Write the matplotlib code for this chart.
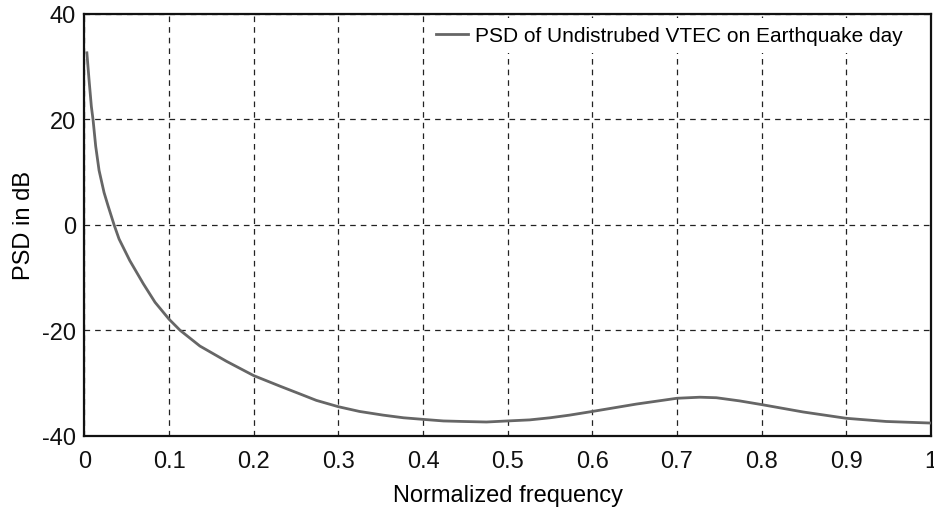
import matplotlib
matplotlib.use("Agg")
import matplotlib.pyplot as plt

plt.rcParams['font.family'] = ['Liberation Sans', 'DejaVu Sans']
plt.rcParams['axes.unicode_minus'] = False

freq = [0.003, 0.0056, 0.0083, 0.0103, 0.0134, 0.0174, 0.0233, 0.028, 0.0351,
        0.041, 0.0537, 0.0697, 0.0835, 0.1, 0.113, 0.1365, 0.168, 0.2, 0.231,
        0.255, 0.274, 0.3, 0.325, 0.353, 0.377, 0.4, 0.424, 0.447, 0.475,
        0.5, 0.526, 0.55, 0.573, 0.6, 0.652, 0.7, 0.727, 0.7465, 0.774,
        0.8, 0.849, 0.9, 0.947, 1.0]
psd_db = [32.6, 27.4, 22.4, 19.9, 14.9, 10.3, 6.1, 3.6, 0.0,
          -2.7, -6.8, -11.2, -14.7, -17.9, -20.0, -23.0, -25.9, -28.6, -30.6,
          -32.1, -33.3, -34.5, -35.4, -36.1, -36.6, -36.9, -37.2, -37.3, -37.4,
          -37.2, -37.0, -36.6, -36.1, -35.4, -34.0, -32.9, -32.7, -32.8, -33.4,
          -34.1, -35.5, -36.7, -37.3, -37.6]
xticks = [0, 0.1, 0.2, 0.3, 0.4, 0.5, 0.6, 0.7, 0.8, 0.9, 1]
xticklabels = ['0', '0.1', '0.2', '0.3', '0.4', '0.5', '0.6', '0.7', '0.8', '0.9', '1']
yticks = [-40, -20, 0, 20, 40]
yticklabels = ['-40', '-20', '0', '20', '40']
series_label = 'PSD of Undistrubed VTEC on Earthquake day'

fig = plt.figure(figsize=(9.34, 5.10), dpi=100)
ax = fig.add_axes([0.0903, 0.1437, 0.9065, 0.8273])

ax.plot(freq, psd_db, color='#666666', linewidth=2.0, label=series_label, zorder=3,
        solid_joinstyle='round')
ax.set_xlim(0, 1)
ax.set_ylim(-40, 40)
ax.set_xticks(xticks)
ax.set_xticklabels(xticklabels)
ax.set_yticks(yticks)
ax.set_yticklabels(yticklabels)
ax.grid(True, color='#222222', linestyle=(0, (4.5, 4.0)), linewidth=0.9)
for s in ax.spines.values():
    s.set_linewidth(1.6)
    s.set_color('#111111')
ax.tick_params(axis='both', direction='in', length=0, labelsize=17, colors='#111111')
ax.tick_params(axis='x', pad=10)
ax.tick_params(axis='y', pad=6)
ax.set_xlabel('Normalized frequency', fontsize=17, labelpad=9)
ax.set_ylabel('PSD in dB', fontsize=17, labelpad=5)

leg = ax.legend(loc='upper right', bbox_to_anchor=(0.977, 0.991), fontsize=15,
                frameon=True, fancybox=False, handlelength=1.55, borderaxespad=0.0,
                borderpad=0.4, handletextpad=0.35)
leg.get_frame().set_edgecolor('none')
leg.get_frame().set_facecolor('white')
leg.get_frame().set_alpha(1.0)

fig.savefig('out.png', dpi=100)
